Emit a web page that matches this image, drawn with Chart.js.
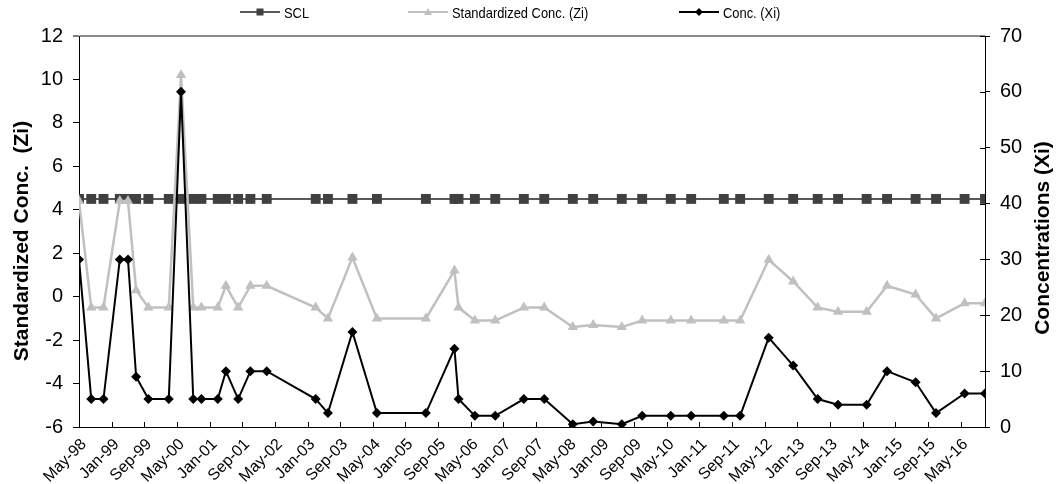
<!DOCTYPE html>
<html>
<head>
<meta charset="utf-8">
<script src="https://cdn.jsdelivr.net/npm/chart.js@4.4.1/dist/chart.umd.min.js"></script>
<style>
  html, body { margin: 0; padding: 0; background: #fff; }
  #wrap { position: relative; width: 1057px; height: 484px; overflow: hidden; }
  #chart { position: absolute; left: 0; top: 0; }
  .legend { position: absolute; left: 0; top: 0; width: 1057px; height: 24px;
    font-family: "Liberation Sans", Arial, sans-serif; font-size: 15px; color: #000; }
  .legend .item { position: absolute; top: 4px; height: 16px; display: flex; align-items: center; white-space: nowrap; }
  .legend svg { margin-right: 4px; }
  .legend .txt { display: inline-block; transform: scaleX(0.86); transform-origin: left center; }
</style>
</head>
<body>
<div id="wrap">
  <canvas id="chart" width="1057" height="484"></canvas>
  <div class="legend">
    <div class="item" style="left:240px">
      <svg width="40" height="12"><line x1="0" y1="6" x2="40" y2="6" stroke="#595959" stroke-width="2"/><rect x="16.5" y="2.5" width="7" height="7" fill="#404040"/></svg><span class="txt">SCL</span>
    </div>
    <div class="item" style="left:408px">
      <svg width="40" height="12"><line x1="0" y1="6" x2="40" y2="6" stroke="#c0c0c0" stroke-width="2"/><polygon points="20,2 24,9 16,9" fill="#c0c0c0"/></svg><span class="txt">Standardized Conc. (Zi)</span>
    </div>
    <div class="item" style="left:679px">
      <svg width="40" height="12"><line x1="0" y1="6" x2="40" y2="6" stroke="#000" stroke-width="2"/><polygon points="20,2 24,6 20,10 16,6" fill="#000"/></svg><span class="txt">Conc. (Xi)</span>
    </div>
  </div>
</div>
<script>
(function () {
  "use strict";

  // Sampling dates (year-month).
  const sampleDates = [
    "1998-05", "1998-08", "1998-11", "1999-03", "1999-05", "1999-07", "1999-10", "2000-03",
    "2000-06", "2000-09", "2000-11", "2001-03", "2001-05", "2001-08", "2001-11", "2002-03",
    "2003-03", "2003-06", "2003-12", "2004-06", "2005-06", "2006-01", "2006-02", "2006-06",
    "2006-11", "2007-06", "2007-11", "2008-06", "2008-11", "2009-06", "2009-11", "2010-06",
    "2010-11", "2011-07", "2011-11", "2012-06", "2012-12", "2013-06", "2013-11", "2014-06",
    "2014-11", "2015-06", "2015-11", "2016-06", "2016-11"
  ];
  // Standardized concentration (left axis)
  const zi = [
    4.4, -0.5, -0.5, 4.4, 4.4, 0.3, -0.5, -0.5,
    10.2, -0.5, -0.5, -0.5, 0.5, -0.5, 0.5, 0.5,
    -0.5, -1.0, 1.8, -1.0, -1.0, 1.2, -0.5, -1.1,
    -1.1, -0.5, -0.5, -1.4, -1.3, -1.4, -1.1, -1.1,
    -1.1, -1.1, -1.1, 1.7, 0.7, -0.5, -0.7, -0.7,
    0.5, 0.1, -1.0, -0.3, -0.3
  ];
  // Concentration (right axis)
  const xi = [
    30, 5, 5, 30, 30, 9, 5, 5,
    60, 5, 5, 5, 10, 5, 10, 10,
    5, 2.5, 17, 2.5, 2.5, 14, 5, 2,
    2, 5, 5, 0.5, 1, 0.5, 2, 2,
    2, 2, 2, 16, 11, 5, 4, 4,
    10, 8, 2.5, 6, 6
  ];
  // SCL (left axis)
  const scl = [
    4.5, 4.5, 4.5, 4.5, 4.5, 4.5, 4.5, 4.5,
    4.5, 4.5, 4.5, 4.5, 4.5, 4.5, 4.5, 4.5,
    4.5, 4.5, 4.5, 4.5, 4.5, 4.5, 4.5, 4.5,
    4.5, 4.5, 4.5, 4.5, 4.5, 4.5, 4.5, 4.5,
    4.5, 4.5, 4.5, 4.5, 4.5, 4.5, 4.5, 4.5,
    4.5, 4.5, 4.5, 4.5, 4.5
  ];
  const xTickLabels = [
    "May-98", "Jan-99", "Sep-99", "May-00", "Jan-01", "Sep-01", "May-02", "Jan-03",
    "Sep-03", "May-04", "Jan-05", "Sep-05", "May-06", "Jan-07", "Sep-07", "May-08",
    "Jan-09", "Sep-09", "May-10", "Jan-11", "Sep-11", "May-12", "Jan-13", "Sep-13",
    "May-14", "Jan-15", "Sep-15", "May-16"
  ];
  const leftTitle = "Standardized Conc.  (Zi)";
  const rightTitle = "Concentrations (Xi)";

  const MONTHS = ["Jan", "Feb", "Mar", "Apr", "May", "Jun", "Jul", "Aug", "Sep", "Oct", "Nov", "Dec"];
  const BASE_YEAR = 1998, BASE_MONTH = 5; // axis starts at May-98

  // x runs in months since May 1998
  const fromYm = (s) => {
    const [y, m] = s.split("-").map(Number);
    return (y - BASE_YEAR) * 12 + (m - BASE_MONTH);
  };
  const fromLabel = (s) => {
    const [mon, yy] = s.split("-");
    const year = 1900 + Number(yy) + (Number(yy) < 50 ? 100 : 0);
    return (year - BASE_YEAR) * 12 + (MONTHS.indexOf(mon) + 1 - BASE_MONTH);
  };
  const tickValues = xTickLabels.map(fromLabel);
  const xMax = fromYm(sampleDates[sampleDates.length - 1]);
  const points = (vals) => sampleDates.map((d, i) => ({ x: fromYm(d), y: vals[i] }));

  const FONT = '"Liberation Sans", Arial, sans-serif';

  const axisExtras = {
    id: "axisExtras",
    beforeDatasetsDraw(chart) {
      const { ctx, chartArea, scales } = chart;
      ctx.save();
      ctx.strokeStyle = "#000";
      ctx.lineWidth = 1;
      ctx.beginPath();
      // inside tick marks on the date axis, crossing ticks on the right axis
      scales.x.ticks.forEach((t) => {
        const px = Math.round(scales.x.getPixelForValue(t.value)) + 0.5;
        ctx.moveTo(px, chartArea.bottom);
        ctx.lineTo(px, chartArea.bottom - 5);
      });
      scales.y2.ticks.forEach((t) => {
        const py = Math.round(scales.y2.getPixelForValue(t.value)) + 0.5;
        ctx.moveTo(chartArea.right, py);
        ctx.lineTo(chartArea.right - 5, py);
      });
      ctx.stroke();
      ctx.restore();
    },
    afterDraw(chart) {
      const { ctx } = chart;
      const title = (text, x, y) => {
        ctx.save();
        ctx.fillStyle = "#000";
        ctx.font = "bold 21px " + FONT;
        ctx.textAlign = "center";
        ctx.textBaseline = "middle";
        ctx.translate(x, y);
        ctx.rotate(-Math.PI / 2);
        ctx.fillText(text, 0, 0);
        ctx.restore();
      };
      title(leftTitle, 22, 241);
      title(rightTitle, 1043, 238);
    },
  };

  new Chart(document.getElementById("chart"), {
    type: "line",
    data: {
      datasets: [
        {
          label: "SCL",
          data: points(scl),
          yAxisID: "y",
          order: 3,
          borderColor: "#595959",
          borderWidth: 2,
          pointStyle: "rect",
          pointRadius: 7,
          pointBackgroundColor: "#404040",
          pointBorderWidth: 0,
        },
        {
          label: "Standardized Conc. (Zi)",
          data: points(zi),
          yAxisID: "y",
          order: 2,
          borderColor: "#c0c0c0",
          borderWidth: 2.5,
          pointStyle: "triangle",
          pointRadius: 6,
          pointBackgroundColor: "#c0c0c0",
          pointBorderWidth: 0,
        },
        {
          label: "Conc. (Xi)",
          data: points(xi),
          yAxisID: "y2",
          order: 1,
          borderColor: "#000",
          borderWidth: 2,
          pointStyle: "rectRot",
          pointRadius: 5,
          pointBackgroundColor: "#000",
          pointBorderWidth: 0,
        },
      ],
    },
    options: {
      responsive: false,
      animation: false,
      events: [],
      layout: { padding: { top: 36, left: 0, right: 0, bottom: 0 } },
      plugins: { legend: { display: false }, tooltip: { enabled: false } },
      scales: {
        x: {
          type: "linear",
          min: 0,
          max: xMax,
          afterBuildTicks: (s) => { s.ticks = tickValues.map((v) => ({ value: v })); },
          afterFit: (s) => { s.height = 57; },
          grid: { drawOnChartArea: false, drawTicks: false },
          border: { color: "#000", width: 1 },
          ticks: {
            autoSkip: false,
            minRotation: 45,
            maxRotation: 45,
            padding: 8,
            labelOffset: 5,
            color: "#000",
            font: { family: FONT, size: 16 },
            callback: (v, i) => xTickLabels[i],
          },
        },
        y: {
          position: "left",
          min: -6,
          max: 12,
          afterFit: (s) => { s.width = 79; },
          grid: {
            color: (c) => (c.tick && c.tick.value === 12 ? "#8c8c8c" : "rgba(0,0,0,0)"),
            lineWidth: (c) => (c.tick && c.tick.value === 12 ? 2 : 1),
            tickColor: "#000",
            tickWidth: 1,
            tickLength: 6,
          },
          border: { color: "#000", width: 1 },
          ticks: { stepSize: 2, padding: 10, color: "#000", font: { family: FONT, size: 20 } },
        },
        y2: {
          position: "right",
          min: 0,
          max: 70,
          afterFit: (s) => { s.width = 72; },
          grid: { drawOnChartArea: false, tickColor: "#000", tickLength: 5 },
          border: { color: "#000", width: 1 },
          ticks: { stepSize: 10, padding: 10, color: "#000", font: { family: FONT, size: 20 } },
        },
      },
    },
    plugins: [axisExtras],
  });
})();
</script>
</body>
</html>
